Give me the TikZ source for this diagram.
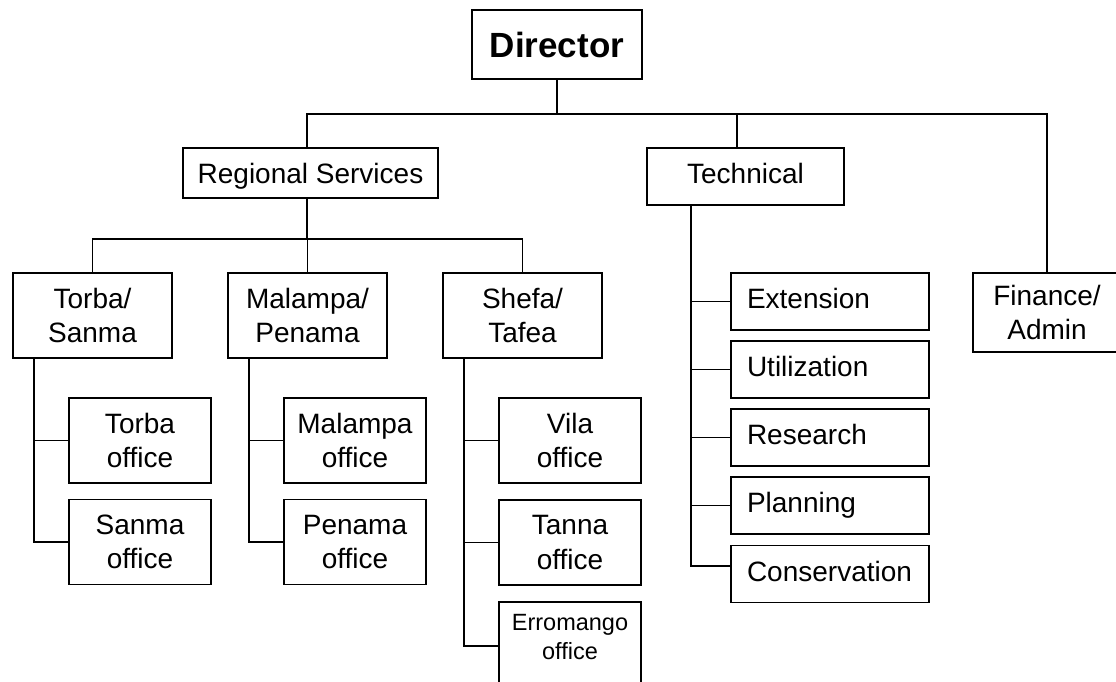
\documentclass[tikz,border=0pt]{standalone}
\usepackage{fontspec}
\setmainfont{Liberation Sans}
\begin{document}
\begin{tikzpicture}[x=1pt,y=-1pt,line width=1.6pt,
  box/.style={draw,line width=1.6pt,inner sep=0pt,align=center,font=\fontsize{28}{34.5}\selectfont},
  rbox/.style={box,minimum width=159,minimum height=85},
  obox/.style={box,minimum width=142,minimum height=85},
  tbox/.style={draw,line width=1.6pt,inner ysep=0pt,inner xsep=16pt,text width=166pt,align=left,minimum height=57,text height=20pt,text depth=6pt,font=\fontsize{28}{34.5}\selectfont}]
\useasboundingbox (0,0) rectangle (1116,681);
\clip (0,0) rectangle (1116,681);

\node[box,minimum width=170,minimum height=69,font=\bfseries\fontsize{35}{40}\selectfont] (dir) at (557,44.5) {Director};
\node[box,minimum width=255,minimum height=50,text height=20pt,text depth=0pt] (rs) at (310.5,173) {Regional Services};
\node[box,minimum width=197,minimum height=57,text height=20pt,text depth=6pt] (tech) at (745.5,176.5) {Technical};
\node[box,minimum width=148,minimum height=79] (fin) at (1047,312.5) {Finance/\\Admin};

\node[rbox] (tor) at (92.5,315.5) {Torba/\\Sanma};
\node[rbox] (mal) at (307.5,315.5) {Malampa/\\Penama};
\node[rbox] (she) at (522.5,315.5) {Shefa/\\Tafea};

\node[obox] (toff) at (140,440.5) {Torba\\office};
\node[obox] (soff) at (140,542) {Sanma\\office};
\node[obox] (moff) at (355,440.5) {Malampa\\office};
\node[obox] (poff) at (355,542) {Penama\\office};
\node[obox] (voff) at (570,440.5) {Vila\\office};
\node[obox] (taoff) at (570,542.5) {Tanna\\office};
\node[obox,minimum height=88,font=\fontsize{23.5}{29}\selectfont] (eoff) at (570,646) {Erromango\\office\\[-10pt]\mbox{}};

\node[tbox] (ext) at (830,301.5) {Extension};
\node[tbox] (uti) at (830,369.5) {Utilization};
\node[tbox] (res) at (830,437.5) {Research};
\node[tbox] (pla) at (830,505.5) {Planning};
\node[tbox] (con) at (830,574) {Conservation};

\coordinate (bus1) at (0,114);
\coordinate (bus2) at (0,239);

\draw (dir.south) -- (dir.south |- bus1);
\draw ([xshift=-3.5pt]rs.north) -- ([xshift=-3.5pt]rs.north |- bus1) -- (fin.north |- bus1) -- (fin.north);
\draw ([xshift=-8.5pt]tech.north) -- ([xshift=-8.5pt]tech.north |- bus1);

\draw ([xshift=-3.5pt]rs.south) -- ([xshift=-3.5pt]rs.south |- bus2);
\draw (tor.north) -- (tor.north |- bus2) -- (she.north |- bus2) -- (she.north);
\draw (mal.north) -- (mal.north |- bus2);

\draw ([xshift=22pt]tor.south west) |- (soff.west);
\draw ([xshift=22pt]tor.south west |- toff.west) -- (toff.west);
\draw ([xshift=22pt]mal.south west) |- (poff.west);
\draw ([xshift=22pt]mal.south west |- moff.west) -- (moff.west);
\draw ([xshift=22pt]she.south west) |- (eoff.west);
\draw ([xshift=22pt]she.south west |- voff.west) -- (voff.west);
\draw ([xshift=22pt]she.south west |- taoff.west) -- (taoff.west);

\draw ([xshift=45pt]tech.south west) |- ([yshift=8pt]con.west);
\draw ([xshift=45pt]tech.south west |- ext.west) -- (ext.west);
\draw ([xshift=45pt]tech.south west |- uti.west) -- (uti.west);
\draw ([xshift=45pt]tech.south west |- res.west) -- (res.west);
\draw ([xshift=45pt]tech.south west |- pla.west) -- (pla.west);
\end{tikzpicture}
\end{document}
